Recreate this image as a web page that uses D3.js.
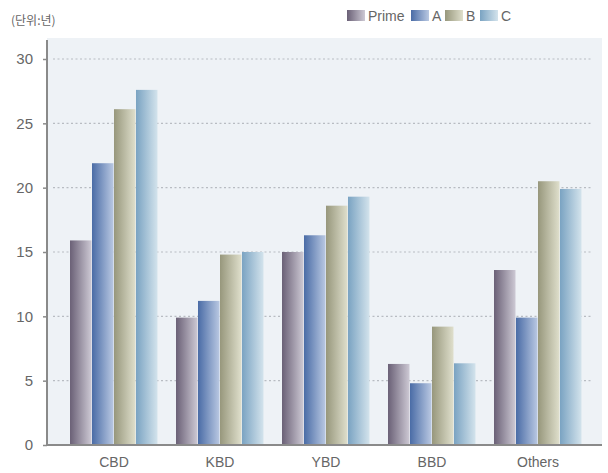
<!DOCTYPE html>
<html>
<head>
<meta charset="utf-8">
<script src="https://cdn.jsdelivr.net/npm/d3@7"></script>
<style>
  html, body { margin: 0; padding: 0; background: #fff; }
  svg text { font-family: "Liberation Sans Narrow", "Arial Narrow", "Liberation Sans", sans-serif; }
</style>
</head>
<body>
<svg id="chart" width="608" height="473"></svg>
<script>
// Chart data
const categories = ["CBD", "KBD", "YBD", "BBD", "Others"];
const seriesNames = ["Prime", "A", "B", "C"];
const primeValues = [15.9, 9.9, 15.0, 6.3, 13.6];
const aValues = [21.9, 11.2, 16.3, 4.8, 9.9];
const bValues = [26.1, 14.8, 18.6, 9.2, 20.5];
const cValues = [27.6, 15.0, 19.3, 6.35, 19.9];
const yTicks = [0, 5, 10, 15, 20, 25, 30];
const unitLabel = "(단위:년)";

const seriesValues = [primeValues, aValues, bValues, cValues];
const gradStops = [
  ["#6a6076", "#cdc9d4"],
  ["#4a6ca6", "#b9c8e2"],
  ["#97977c", "#dfdfcc"],
  ["#7aa3c2", "#d3e3ec"]
];
const textColor = "#666";

const svg = d3.select("#chart");
const plot = { left: 47, right: 602, top: 38, bottom: 445 };

const defs = svg.append("defs");
gradStops.forEach((g, i) => {
  const lg = defs.append("linearGradient")
    .attr("id", "grad" + i)
    .attr("x1", "0%").attr("x2", "100%").attr("y1", "0%").attr("y2", "0%");
  lg.append("stop").attr("offset", "0%").attr("stop-color", g[0]);
  lg.append("stop").attr("offset", "100%").attr("stop-color", g[1]);
});

// Plot background
svg.append("rect")
  .attr("x", plot.left).attr("y", plot.top)
  .attr("width", plot.right - plot.left).attr("height", plot.bottom - plot.top)
  .attr("fill", "#eef2f6");

const y = d3.scaleLinear().domain([0, 30]).range([445, 59]);
const x0 = d3.scaleBand().domain(categories).range([61, 591])
  .paddingInner(0.17).paddingOuter(0.085);
const x1 = d3.scaleBand().domain(seriesNames).range([0, x0.bandwidth()]).padding(0);

// Dotted gridlines
svg.append("g").selectAll("line")
  .data(yTicks.filter(t => t > 0))
  .join("line")
  .attr("x1", 53).attr("x2", 593)
  .attr("y1", d => y(d)).attr("y2", d => y(d))
  .attr("stroke", "#b8bcc2")
  .attr("stroke-width", 1.2)
  .attr("stroke-dasharray", "2,2.5");

// Bars
const groups = svg.append("g").selectAll("g")
  .data(categories)
  .join("g")
  .attr("transform", d => `translate(${x0(d)},0)`);

groups.selectAll("rect")
  .data((d, ci) => seriesNames.map((s, si) => ({ s, si, v: seriesValues[si][ci] })))
  .join("rect")
  .attr("x", d => x1(d.s))
  .attr("width", x1.bandwidth() - 0.5)
  .attr("y", d => y(d.v))
  .attr("height", d => y(0) - y(d.v))
  .attr("fill", d => `url(#grad${d.si})`);

// Y axis
const yAxis = d3.axisLeft(y).tickValues(yTicks).tickSize(4).tickPadding(10);
const gy = svg.append("g").attr("transform", `translate(${plot.left},0)`).call(yAxis);
gy.select(".domain").remove();
gy.selectAll(".tick line").attr("stroke", "#8a8a8a").attr("stroke-width", 1.5);
gy.selectAll(".tick text").attr("fill", textColor).style("font-size", "15px");
svg.append("line")
  .attr("x1", plot.left).attr("x2", plot.left)
  .attr("y1", plot.top + 2).attr("y2", plot.bottom)
  .attr("stroke", "#8a8a8a").attr("stroke-width", 2);

// X axis
const xAxis = d3.axisBottom(x0).tickSize(0).tickPadding(12);
const gx = svg.append("g").attr("transform", `translate(0,${plot.bottom})`).call(xAxis);
gx.select(".domain").remove();
gx.selectAll(".tick text").attr("fill", textColor).style("font-size", "14px");
svg.append("line")
  .attr("x1", plot.left - 1).attr("x2", plot.right)
  .attr("y1", plot.bottom).attr("y2", plot.bottom)
  .attr("stroke", "#8a8a8a").attr("stroke-width", 2);

// Unit label
svg.append("text")
  .attr("x", 11).attr("y", 25)
  .attr("fill", textColor)
  .style("font-family", "'Noto Sans CJK KR', sans-serif")
  .style("font-size", "12px")
  .text(unitLabel);

// Legend
const legendX = [347, 411, 445, 480];
const legend = svg.append("g").selectAll("g")
  .data(seriesNames)
  .join("g")
  .attr("transform", (d, i) => `translate(${legendX[i]},10)`);
legend.append("rect")
  .attr("width", 18).attr("height", 11)
  .attr("fill", (d, i) => `url(#grad${i})`);
legend.append("text")
  .attr("x", 21).attr("y", 10.5)
  .attr("fill", textColor)
  .style("font-size", "14px")
  .text(d => d);
</script>
</body>
</html>
